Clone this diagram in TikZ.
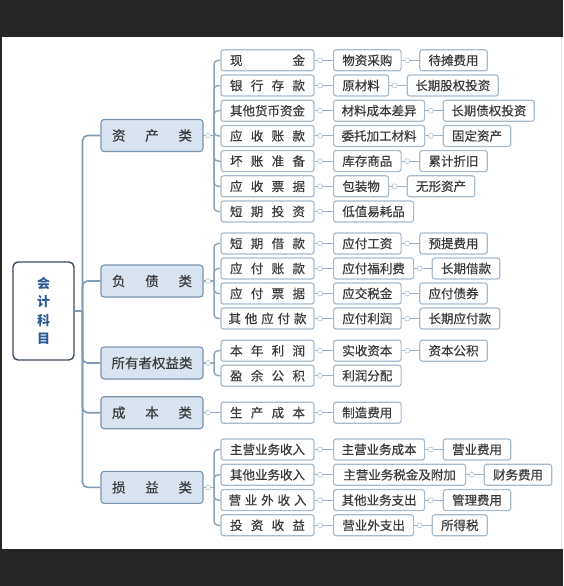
\documentclass[tikz,border=0pt]{standalone}
\usepackage{fontspec}
\setmainfont{Noto Sans CJK SC}
\newfontfamily\bodyfont{Noto Sans CJK SC}[FakeBold=0.4]
\usetikzlibrary{calc}
\definecolor{framebg}{HTML}{262626}
\definecolor{rootline}{HTML}{3E4D5E}
\definecolor{roottext}{HTML}{2C5C96}
\definecolor{catfill}{HTML}{DAE4F0}
\definecolor{catline}{HTML}{7B94AE}
\definecolor{boxline}{HTML}{A6BBCE}
\definecolor{txt}{HTML}{3A3A3A}
\definecolor{trunkc}{HTML}{7F9BB6}
\definecolor{brc}{HTML}{8DA5BB}
\definecolor{lkc}{HTML}{9FB2C4}
\newcommand\jb[2]{\makebox[#1pt][s]{#2}}
\newcommand\lnk[2]{\draw[lk] (#1.east) -- (#2.west); \node[dotc] (#1-d) at ($(#1.east)+(5.5,0)$) {};}
\begin{document}
\begin{tikzpicture}[x=1pt,y=-1pt,
  rootbox/.style={draw=rootline,line width=1.4pt,fill=white,rounded corners=5pt,minimum width=61pt,minimum height=98pt,inner sep=0pt,align=center,text=roottext,font=\fontsize{13}{18.5}\selectfont\bfseries},
  catbox/.style={draw=catline,line width=1.1pt,fill=catfill,rounded corners=3pt,minimum width=102pt,minimum height=32pt,inner sep=0pt,text=txt,font=\bodyfont\fontsize{13.5}{15}\selectfont},
  subbox/.style={draw=boxline,line width=1.2pt,fill=white,rounded corners=2.5pt,minimum width=93pt,minimum height=21pt,inner sep=0pt,text=txt,font=\bodyfont\fontsize{12.5}{14}\selectfont},
  leaf/.style={draw=boxline,line width=1.2pt,fill=white,rounded corners=2.5pt,minimum height=21pt,inner sep=0pt,anchor=west,text=txt,font=\bodyfont\fontsize{12.5}{14}\selectfont},
  w3/.style={leaf,minimum width=55pt},
  w4/.style={leaf,minimum width=67.5pt},
  w5/.style={leaf,minimum width=80pt},
  w6/.style={leaf,minimum width=91pt},
  w9/.style={leaf,minimum width=132pt},
  trunk/.style={draw=trunkc,line width=1.6pt},
  br/.style={draw=brc,line width=1.4pt},
  lk/.style={draw=lkc,line width=1pt},
  dotc/.style={circle,draw=lkc!80,fill=white,line width=0.6pt,minimum size=5pt,inner sep=0pt}
]
\useasboundingbox (0,0) rectangle (563,586);
\fill[white] (0,0) rectangle (563,586);
\fill[framebg] (0,0) rectangle (563,37.5);
\fill[framebg] (0,548.5) rectangle (563,586);
\fill[framebg] (0,0) rectangle (1.5,586);
\draw[black!12,line width=0.8pt] (561,37.5) -- (561,548.5);

% root
\node[rootbox] (root) at (43.5,311) {会\\计\\科\\目};

% categories
\node[catbox] (A) at (152,135.5) {\jb{80}{资\hfill 产\hfill 类}};
\node[catbox] (B) at (152,281) {\jb{80}{负\hfill 债\hfill 类}};
\node[catbox] (C) at (152,363) {所有者权益类};
\node[catbox] (D) at (152,412.7) {\jb{80}{成\hfill 本\hfill 类}};
\node[catbox] (E) at (152,487.4) {\jb{80}{损\hfill 益\hfill 类}};

% level 2
\node[subbox] (a1) at (267.5,60.3) {\jb{75}{现\hfill 金}};
\node[subbox] (a2) at (267.5,85.5) {\jb{75}{银\hfill 行\hfill 存\hfill 款}};
\node[subbox] (a3) at (267.5,110.7) {其他货币资金};
\node[subbox] (a4) at (267.5,135.9) {\jb{75}{应\hfill 收\hfill 账\hfill 款}};
\node[subbox] (a5) at (267.5,161.1) {\jb{75}{坏\hfill 账\hfill 准\hfill 备}};
\node[subbox] (a6) at (267.5,186.3) {\jb{75}{应\hfill 收\hfill 票\hfill 据}};
\node[subbox] (a7) at (267.5,211.5) {\jb{75}{短\hfill 期\hfill 投\hfill 资}};

\node[subbox] (b1) at (267.5,243.5) {\jb{75}{短\hfill 期\hfill 借\hfill 款}};
\node[subbox] (b2) at (267.5,268.5) {\jb{75}{应\hfill 付\hfill 账\hfill 款}};
\node[subbox] (b3) at (267.5,293.5) {\jb{75}{应\hfill 付\hfill 票\hfill 据}};
\node[subbox] (b4) at (267.5,318.5) {\jb{78}{其\hfill 他\hfill 应\hfill 付\hfill 款}};

\node[subbox] (c1) at (267.5,350.7) {\jb{75}{本\hfill 年\hfill 利\hfill 润}};
\node[subbox] (c2) at (267.5,375.7) {\jb{75}{盈\hfill 余\hfill 公\hfill 积}};

\node[subbox] (d1) at (267.5,412.7) {\jb{75}{生\hfill 产\hfill 成\hfill 本}};

\node[subbox] (e1) at (267.5,449.5) {主营业务收入};
\node[subbox] (e2) at (267.5,474.8) {其他业务收入};
\node[subbox] (e3) at (267.5,500.1) {\jb{78}{营\hfill 业\hfill 外\hfill 收\hfill 入}};
\node[subbox] (e4) at (267.5,525.3) {\jb{75}{投\hfill 资\hfill 收\hfill 益}};

% column 3
\node[w4] (a1c) at (333,60.3) {物资采购};
\node[w3] (a2c) at (333,85.5) {原材料};
\node[w6] (a3c) at (333,110.7) {材料成本差异};
\node[w6] (a4c) at (333,135.9) {委托加工材料};
\node[w4] (a5c) at (333,161.1) {库存商品};
\node[w3] (a6c) at (333,186.3) {包装物};
\node[w5] (a7c) at (333,211.5) {低值易耗品};

\node[w4] (b1c) at (333,243.5) {应付工资};
\node[w5] (b2c) at (333,268.5) {应付福利费};
\node[w4] (b3c) at (333,293.5) {应交税金};
\node[w4] (b4c) at (333,318.5) {应付利润};

\node[w4] (c1c) at (333,350.7) {实收资本};
\node[w4] (c2c) at (333,375.7) {利润分配};

\node[w4] (d1c) at (333,412.7) {制造费用};

\node[w6] (e1c) at (333,449.5) {主营业务成本};
\node[w9] (e2c) at (333,474.8) {主营业务税金及附加};
\node[w6] (e3c) at (333,500.1) {其他业务支出};
\node[w5] (e4c) at (333,525.3) {营业外支出};

% column 4
\node[w4] (a1f) at ($(a1c.east)+(17.5,0)$) {待摊费用};
\node[w6] (a2f) at ($(a2c.east)+(17.5,0)$) {长期股权投资};
\node[w6] (a3f) at ($(a3c.east)+(17.5,0)$) {长期债权投资};
\node[w4] (a4f) at ($(a4c.east)+(17.5,0)$) {固定资产};
\node[w4] (a5f) at ($(a5c.east)+(17.5,0)$) {累计折旧};
\node[w4] (a6f) at ($(a6c.east)+(17.5,0)$) {无形资产};

\node[w4] (b1f) at ($(b1c.east)+(17.5,0)$) {预提费用};
\node[w4] (b2f) at ($(b2c.east)+(17.5,0)$) {长期借款};
\node[w4] (b3f) at ($(b3c.east)+(17.5,0)$) {应付债券};
\node[w5] (b4f) at ($(b4c.east)+(17.5,0)$) {长期应付款};

\node[w4] (c1f) at ($(c1c.east)+(17.5,0)$) {资本公积};

\node[w4] (e1f) at ($(e1c.east)+(17.5,0)$) {营业费用};
\node[w4] (e2f) at ($(e2c.east)+(17.5,0)$) {财务费用};
\node[w4] (e3f) at ($(e3c.east)+(17.5,0)$) {管理费用};
\node[w3] (e4f) at ($(e4c.east)+(17.5,0)$) {所得税};

% trunk
\coordinate (tk) at (82.5,311);
\draw[trunk] (root.east) -- (tk);
\foreach \n in {A,B,C,D,E} \draw[trunk,rounded corners=5pt] (tk) |- (\n.west);

% brackets
\foreach \g/\kids in {A/{a1,a2,a3,a4,a5,a6,a7},B/{b1,b2,b3,b4},C/{c1,c2},E/{e1,e2,e3,e4}}{
  \coordinate (\g b) at ($(\g.east)+(10.5,0)$);
  \draw[br] (\g.east) -- (\g b);
  \foreach \k in \kids \draw[br,rounded corners=4pt] (\g b) |- (\k.west);
  \node[dotc] (\g-d) at ($(\g.east)+(4.5,0)$) {};
}
\draw[br] (D.east) -- (d1.west);
\node[dotc] (D-d) at ($(D.east)+(4.5,0)$) {};

% links
\foreach \k in {a1,a2,a3,a4,a5,a6,a7,b1,b2,b3,b4,c1,c2,d1,e1,e2,e3,e4}{\lnk{\k}{\k c}}
\foreach \k in {a1,a2,a3,a4,a5,a6,b1,b2,b3,b4,c1,e1,e2,e3,e4}{\lnk{\k c}{\k f}}
\end{tikzpicture}
\end{document}
